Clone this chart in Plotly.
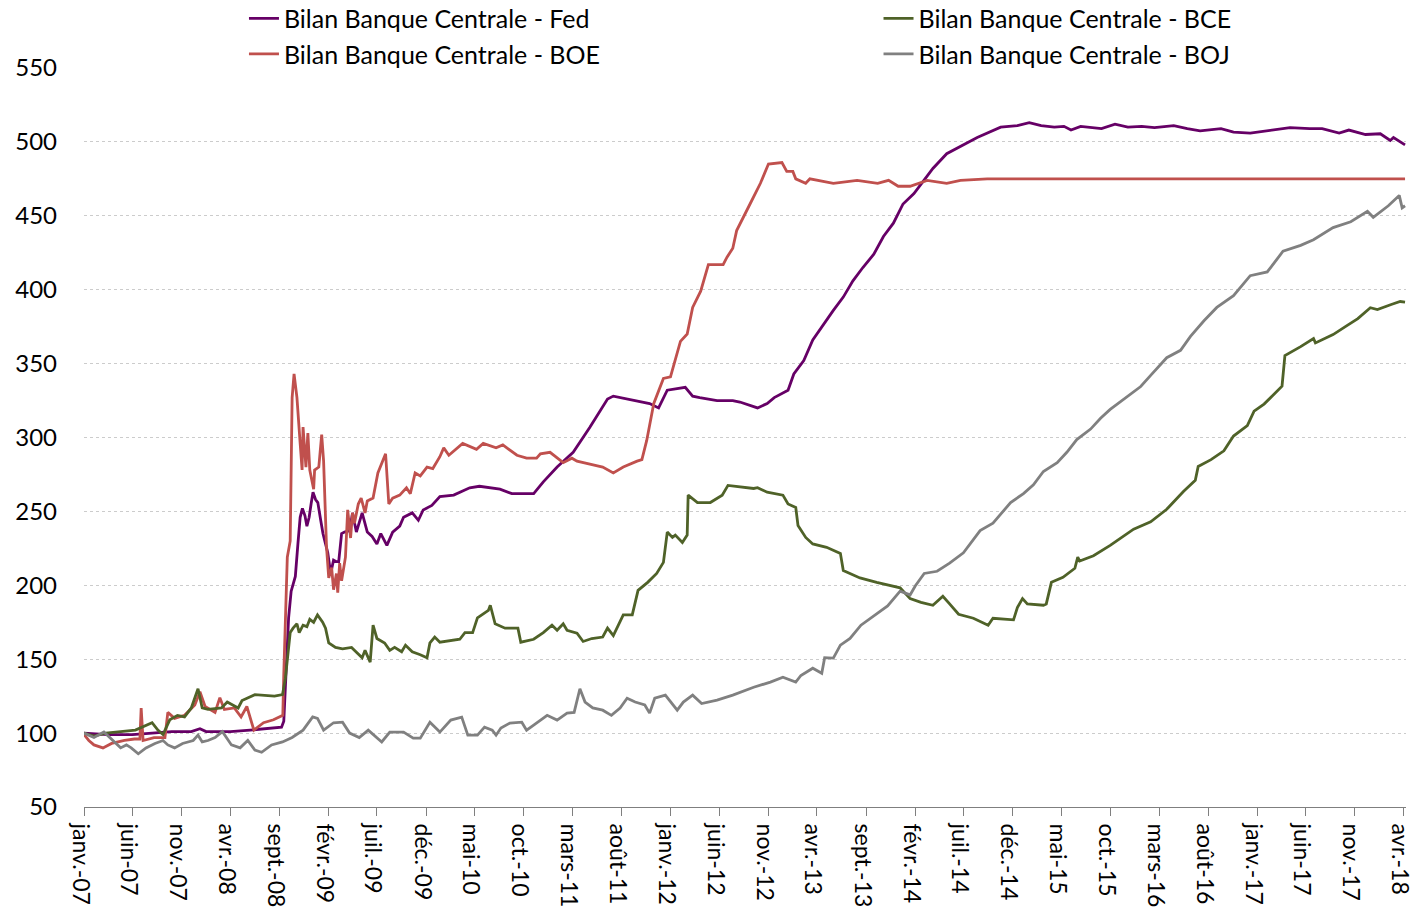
import pandas as pd
import plotly.graph_objects as go

# ---------------- data ----------------
fed_dates = ["2007-01-01","2007-03-16","2007-06-01","2007-08-16","2007-10-01","2007-12-01","2007-12-28","2008-01-16",
             "2008-04-01","2008-06-01","2008-08-01","2008-09-07","2008-09-14","2008-09-22","2008-09-29","2008-10-07",
             "2008-10-14","2008-10-20","2008-10-28","2008-11-04","2008-11-11","2008-11-19","2008-11-25","2008-12-02",
             "2008-12-08","2008-12-14","2008-12-22","2008-12-29","2009-01-07","2009-01-14","2009-01-22","2009-01-29",
             "2009-02-07","2009-02-16","2009-02-25","2009-03-04","2009-03-13","2009-03-22","2009-04-07","2009-04-16",
             "2009-04-28","2009-05-16","2009-06-01","2009-06-16","2009-07-01","2009-07-13","2009-08-01","2009-08-19",
             "2009-09-10","2009-09-22","2009-10-19","2009-11-07","2009-11-22","2009-12-19","2010-01-13","2010-02-25",
             "2010-04-16","2010-05-16","2010-07-19","2010-08-25","2010-11-01","2010-12-01","2011-01-13","2011-03-04",
             "2011-04-25","2011-06-19","2011-07-07","2011-09-07","2011-10-28","2011-11-25","2011-12-22","2012-02-16",
             "2012-03-10","2012-04-01","2012-05-25","2012-07-13","2012-08-04","2012-09-28","2012-10-28","2012-11-19",
             "2013-01-01","2013-01-19","2013-02-19","2013-03-19","2013-04-22","2013-05-22","2013-06-22","2013-07-22",
             "2013-08-22","2013-09-25","2013-10-25","2013-11-25","2013-12-25","2014-01-28","2014-02-28","2014-03-28",
             "2014-05-10","2014-06-22","2014-08-13","2014-10-25","2014-12-16","2015-01-22","2015-02-28","2015-04-10",
             "2015-05-10","2015-06-01","2015-07-01","2015-09-04","2015-10-16","2015-11-25","2016-01-07","2016-02-16",
             "2016-04-16","2016-05-28","2016-07-07","2016-09-10","2016-10-19","2016-12-10","2017-02-01","2017-04-13",
             "2017-06-13","2017-07-22","2017-09-13","2017-10-13","2017-12-04","2018-01-19","2018-02-19","2018-03-01",
             "2018-04-06"]
fed_values = [100,99,99,100,101,101,103,101,
              101,102,103,104,108,150,178,196,
              202,206,228,246,252,247,240,246,
              255,263,258,256,244,235,228,222,
              208,217,216,216,235,236,237,249,
              236,249,236,233,228,235,227,236,
              240,246,249,244,251,254,260,261,
              266,267,265,262,262,270,280,290,
              307,326,328,325,323,320,332,334,
              328,327,325,325,324,320,323,327,
              332,343,352,366,377,386,395,406,
              415,424,436,445,458,465,474,482,
              492,497,503,510,511,513,511,510,
              510.5,508,510.5,509,512,510,510.5,509.6,
              511,509,507.5,509,506.6,506,507.5,509.6,
              509,509,506,508,505,505.5,501,503,
              498]

boe_dates = ["2007-01-01","2007-01-16","2007-02-01","2007-03-01","2007-03-28","2007-05-07","2007-06-07","2007-06-24",
             "2007-06-28","2007-07-04","2007-08-07","2007-09-10","2007-09-19","2007-10-10","2007-11-10","2007-12-12",
             "2007-12-28","2008-01-13","2008-02-13","2008-02-28","2008-03-13","2008-04-13","2008-05-04","2008-05-22",
             "2008-06-13","2008-07-13","2008-08-13","2008-09-04","2008-09-11","2008-09-14","2008-09-25","2008-10-04",
             "2008-10-10","2008-10-16","2008-10-25","2008-11-04","2008-11-10","2008-11-13","2008-11-22","2008-11-28",
             "2008-12-04","2008-12-16","2008-12-19","2009-01-01","2009-01-10","2009-01-16","2009-01-25","2009-02-01",
             "2009-02-10","2009-02-16","2009-02-25","2009-03-01","2009-03-07","2009-03-13","2009-03-25","2009-04-01",
             "2009-04-10","2009-04-16","2009-04-22","2009-05-04","2009-05-13","2009-05-25","2009-06-01","2009-06-19",
             "2009-07-04","2009-07-28","2009-08-07","2009-08-19","2009-09-10","2009-10-01","2009-10-13","2009-10-28",
             "2009-11-13","2009-12-04","2009-12-22","2010-01-13","2010-01-25","2010-02-10","2010-03-25","2010-05-07",
             "2010-05-28","2010-07-07","2010-07-28","2010-09-10","2010-10-10","2010-11-10","2010-11-22","2010-12-22",
             "2011-02-01","2011-02-28","2011-03-16","2011-04-25","2011-06-04","2011-07-07","2011-08-07","2011-09-19",
             "2011-10-04","2011-10-19","2011-11-10","2011-12-10","2012-01-01","2012-02-01","2012-02-22","2012-03-10",
             "2012-04-04","2012-04-28","2012-06-13","2012-06-25","2012-07-13","2012-07-25","2012-08-16","2012-09-07",
             "2012-10-07","2012-11-01","2012-12-13","2012-12-28","2013-01-16","2013-01-25","2013-02-25","2013-03-10",
             "2013-05-22","2013-08-04","2013-10-07","2013-11-10","2013-12-10","2014-01-16","2014-03-10","2014-05-10",
             "2014-06-22","2014-09-13","2018-04-06"]
boe_values = [99,95,92,90,93,95,96,96,
              117,95,97,97,114,110,112,119,
              128,118,114,124,116,117,111,118,
              102,107,109,111,112,140,219,230,
              327,343,327,296,278,307,280,303,
              278,265,278,280,302,284,226,205,
              212,197,208,195,215,203,219,251,
              232,249,242,255,259,249,257,259,
              276,289,255,259,261,266,262,276,
              274,280,279,287,293,288,296,292,
              296,293,295,288,286,286,289,290,
              283,286,284,282,280,276,280,284,
              285,298,323,340,341,365,370,388,
              399,417,417,422,428,440,450,459,
              472,485,486,480,480,475,472,475,
              472,474,472,474,470,470,474,472,
              474,475,475]

bce_dates = ["2007-01-01","2007-02-01","2007-03-10","2007-05-01","2007-06-10","2007-08-01","2007-08-19","2007-09-04",
             "2007-09-25","2007-10-19","2007-11-10","2007-12-01","2007-12-22","2008-01-04","2008-01-22","2008-03-04",
             "2008-03-22","2008-04-25","2008-05-07","2008-06-16","2008-08-16","2008-09-10","2008-09-19","2008-10-04",
             "2008-10-13","2008-10-25","2008-11-01","2008-11-13","2008-11-25","2008-12-04","2008-12-16","2008-12-28",
             "2009-01-13","2009-01-22","2009-02-01","2009-02-22","2009-03-16","2009-04-13","2009-04-28","2009-05-16",
             "2009-05-25","2009-06-10","2009-06-19","2009-07-01","2009-07-25","2009-08-10","2009-08-25","2009-09-16",
             "2009-09-28","2009-10-19","2009-11-13","2009-12-04","2009-12-13","2009-12-28","2010-01-13","2010-03-16",
             "2010-04-01","2010-04-25","2010-05-10","2010-06-13","2010-06-19","2010-07-04","2010-08-04","2010-09-13",
             "2010-09-22","2010-11-01","2010-12-01","2010-12-28","2011-01-13","2011-02-01","2011-02-13","2011-03-16",
             "2011-04-04","2011-05-01","2011-06-04","2011-06-19","2011-07-07","2011-07-22","2011-08-07","2011-09-04",
             "2011-09-22","2011-10-22","2011-11-19","2011-12-10","2011-12-22","2012-01-07","2012-01-16","2012-02-07",
             "2012-02-22","2012-02-25","2012-03-25","2012-05-04","2012-06-10","2012-06-28","2012-08-16","2012-09-16",
             "2012-09-28","2012-10-28","2012-12-16","2013-01-01","2013-01-25","2013-02-01","2013-02-25","2013-03-19",
             "2013-05-01","2013-06-13","2013-06-22","2013-07-13","2013-08-13","2013-10-04","2013-12-16","2014-01-16",
             "2014-02-19","2014-03-28","2014-04-28","2014-05-19","2014-06-16","2014-08-01","2014-09-16","2014-10-01",
             "2014-12-04","2014-12-16","2015-01-01","2015-01-16","2015-03-07","2015-03-16","2015-04-01","2015-05-07",
             "2015-06-13","2015-06-22","2015-06-28","2015-08-10","2015-10-01","2015-12-13","2016-02-04","2016-03-25",
             "2016-05-16","2016-06-22","2016-07-01","2016-08-10","2016-09-19","2016-10-19","2016-12-01","2016-12-22",
             "2017-01-22","2017-03-19","2017-03-28","2017-05-16","2017-06-25","2017-07-01","2017-08-25","2017-10-07",
             "2017-11-10","2017-12-19","2018-01-10","2018-02-22","2018-03-22","2018-04-06"]
bce_values = [100,98,100,101,102,107,102,99,
              109,112,111,117,130,117,116,117,
              121,117,122,126,125,126,137,168,
              171,174,168,173,172,177,175,180,
              175,171,161,158,157,158,155,151,
              156,148,173,164,161,156,158,155,
              159.5,155,153,151,161,165,161.5,163.5,
              168,168,178,183,186.5,174,171,171,
              161.5,163.5,168,173,169.6,174,169.6,167.6,
              162,164,165,171,166,173,180,180,
              196.6,202,208,215.5,236,232.4,234,229,
              234,261,256,256,261,267.6,266,265.5,
              266,263,261,255,252.7,240.5,232.4,228,
              225.7,221.6,210,208,205,202,198.3,191,
              188.5,186.5,192.6,187.4,180.4,177.7,173,177.7,
              176.6,185,191,187.4,186.5,187.4,202,205.4,
              211.5,219,216.4,220,227,238,243,251.4,
              263.5,271,280.4,285,291,301,308,317.8,
              322.6,334.7,355.4,361.5,367,364,369.6,375.7,
              380.4,387.8,386.5,390,392,391.6]

boj_dates = ["2007-01-01","2007-02-01","2007-03-04","2007-04-04","2007-04-25","2007-05-13","2007-05-28","2007-06-19",
             "2007-07-13","2007-08-10","2007-09-04","2007-09-19","2007-10-10","2007-11-04","2007-12-07","2007-12-22",
             "2008-01-04","2008-01-22","2008-02-13","2008-03-07","2008-04-04","2008-05-01","2008-05-25","2008-06-16",
             "2008-07-07","2008-08-07","2008-09-10","2008-10-10","2008-11-13","2008-12-13","2008-12-28","2009-01-16",
             "2009-02-16","2009-03-16","2009-04-07","2009-05-07","2009-06-04","2009-07-16","2009-08-10","2009-09-22",
             "2009-10-22","2009-11-13","2009-12-13","2010-01-13","2010-02-16","2010-03-22","2010-04-10","2010-05-10",
             "2010-06-01","2010-06-25","2010-07-07","2010-07-22","2010-08-19","2010-09-25","2010-10-10","2010-11-01",
             "2010-12-13","2011-01-13","2011-02-13","2011-03-07","2011-03-25","2011-04-10","2011-05-04","2011-06-04",
             "2011-07-01","2011-07-28","2011-08-19","2011-09-13","2011-10-13","2011-10-28","2011-11-13","2011-12-16",
             "2012-01-01","2012-01-22","2012-02-10","2012-03-10","2012-04-07","2012-05-25","2012-07-13","2012-09-16",
             "2012-11-07","2012-12-16","2013-01-25","2013-02-10","2013-03-19","2013-04-16","2013-04-25","2013-05-22",
             "2013-06-13","2013-07-13","2013-08-16","2013-10-01","2013-11-07","2013-12-16","2014-01-16","2014-02-01",
             "2014-03-01","2014-04-10","2014-05-19","2014-07-01","2014-07-28","2014-08-22","2014-10-01","2014-10-25",
             "2014-11-25","2015-01-04","2015-02-04","2015-03-07","2015-04-19","2015-05-19","2015-06-19","2015-08-01",
             "2015-09-01","2015-10-01","2015-11-22","2016-01-04","2016-02-04","2016-03-25","2016-05-07","2016-06-07",
             "2016-07-19","2016-08-28","2016-10-19","2016-12-10","2017-02-01","2017-03-22","2017-05-16","2017-06-25",
             "2017-08-25","2017-10-19","2017-12-10","2017-12-28","2018-02-13","2018-03-19","2018-03-28","2018-04-06"]
boj_values = [100,97,100.7,94,90,92,90,86,
              90,93,95,92,90,93,95,98.6,
              94,95,97,101,92,90,95,88.5,
              87,92,94,97,102,111,110,102,
              107,107.4,100,97,102,94,100.7,100.7,
              96.6,96.6,107.4,100.7,108.8,110.8,98.6,98.6,
              104,102,98.6,103.4,106.8,107.4,102,105.4,
              112,108.8,113.5,114,130,121,117,115.5,
              112,117,123.6,121,119,113.5,123.6,125.7,
              121,115.5,121,125.7,120,122.3,125.7,131,
              134.5,137.8,134.5,139,143.9,140.5,151,150.7,
              159.5,164,173,180,186,196,193.5,199.5,
              208,209.5,215,222,229.7,237,242,248,
              256,262,268,277,283,290,298.6,305.7,
              313,319,327.7,334.5,342,354,359,368.4,
              379,388,396,409.5,412,426,430,433.8,
              442,446,453,449,456.8,463.8,455.4,456.8]

series_names = ["Bilan Banque Centrale - Fed", "Bilan Banque Centrale - BOE",
                "Bilan Banque Centrale - BCE", "Bilan Banque Centrale - BOJ"]
tick_labels = ["janv.-07","juin-07","nov.-07","avr.-08","sept.-08","févr.-09","juil.-09","déc.-09",
               "mai-10","oct.-10","mars-11","août-11","janv.-12","juin-12","nov.-12","avr.-13",
               "sept.-13","févr.-14","juil.-14","déc.-14","mai-15","oct.-15","mars-16","août-16",
               "janv.-17","juin-17","nov.-17","avr.-18"]
y_ticks = [50, 100, 150, 200, 250, 300, 350, 400, 450, 500, 550]

# ---------------- figure ----------------
FONT = "Lato, 'Liberation Sans', sans-serif"
colors = ["#660066", "#C0504D", "#4F6228", "#808080"]
series = [(fed_dates, fed_values), (boe_dates, boe_values), (bce_dates, bce_values), (boj_dates, boj_values)]
legends = ["legend", "legend", "legend2", "legend2"]

fig = go.Figure()
for (d, v), name, c, lg in zip(series, series_names, colors, legends):
    fig.add_trace(go.Scatter(x=pd.to_datetime(d), y=v, mode="lines", name=name,
                             line=dict(color=c, width=2.8), legend=lg))

tick_vals = pd.date_range("2007-01-01", periods=len(tick_labels), freq="5MS")

fig.update_layout(
    width=1416, height=915,
    margin=dict(l=84, r=10, t=68, b=108, autoexpand=False),
    paper_bgcolor="white", plot_bgcolor="white",
    font=dict(family=FONT, size=24, color="black"),
    showlegend=True,
    legend=dict(x=0.121, y=1.098, xanchor="left", yanchor="top", orientation="v",
                font=dict(size=25), bgcolor="rgba(0,0,0,0)", tracegroupgap=0),
    legend2=dict(x=0.601, y=1.098, xanchor="left", yanchor="top", orientation="v",
                 font=dict(size=25), bgcolor="rgba(0,0,0,0)", tracegroupgap=0),
    xaxis=dict(type="date", range=["2007-01-01", "2018-04-09"],
               tickmode="array", tickvals=tick_vals, ticktext=tick_labels,
               tickangle=90, ticks="outside", ticklen=8, tickcolor="#7f7f7f", tickwidth=1,
               showline=True, linecolor="#7f7f7f", linewidth=1, ticklabeloverflow="allow",
               ticklabelstandoff=3, ticklabelshift=-4,
               showgrid=False, zeroline=False, tickfont=dict(size=23)),
    yaxis=dict(range=[50, 550], tickmode="array", tickvals=y_ticks,
               showgrid=True, gridcolor="#cccccc", griddash="dot", gridwidth=1,
               zeroline=False, showline=False, ticks="", ticklabelstandoff=26,
               tickfont=dict(size=24)),
)

fig.write_html("out.html")
